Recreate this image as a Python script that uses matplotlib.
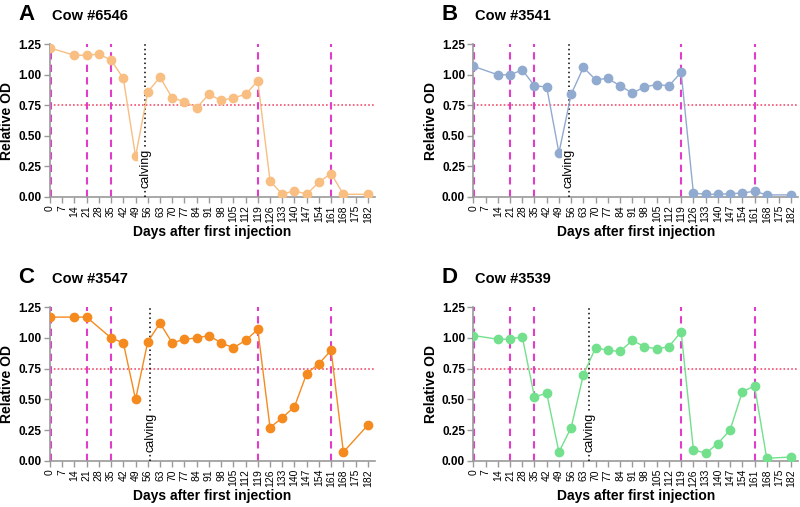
import numpy as np
import matplotlib.pyplot as plt

plt.rcParams['font.family'] = ['Liberation Sans', 'DejaVu Sans']

# days sampled
days = [0, 14, 21, 28, 35, 42, 49, 56, 63, 70, 77, 84, 91, 98, 105, 112, 119,
        126, 133, 140, 147, 154, 161, 168, 182]
days_c = [0, 14, 21, 35, 42, 49, 56, 63, 70, 77, 84, 91, 98, 105, 112, 119,
          126, 133, 140, 147, 154, 161, 168, 182]

od_6546 = [1.22, 1.16, 1.16, 1.17, 1.12, 0.97, 0.33, 0.86, 0.98, 0.81, 0.78, 0.73, 0.84,
           0.79, 0.81, 0.84, 0.95, 0.13, 0.02, 0.05, 0.02, 0.12, 0.19, 0.02, 0.02]
od_3541 = [1.07, 1.00, 1.00, 1.04, 0.91, 0.90, 0.36, 0.84, 1.06, 0.96, 0.97, 0.91, 0.85,
           0.90, 0.92, 0.91, 1.02, 0.03, 0.02, 0.02, 0.025, 0.03, 0.045, 0.015, 0.015]
od_3547 = [1.17, 1.17, 1.17, 1.00, 0.96, 0.50, 0.97, 1.12, 0.96, 0.99, 1.00, 1.02,
           0.96, 0.92, 0.98, 1.07, 0.27, 0.35, 0.44, 0.71, 0.79, 0.90, 0.07, 0.29]
od_3539 = [1.02, 0.99, 0.99, 1.01, 0.52, 0.55, 0.07, 0.27, 0.70, 0.92, 0.90, 0.89, 0.98,
           0.93, 0.91, 0.93, 1.05, 0.09, 0.06, 0.14, 0.25, 0.56, 0.61, 0.02, 0.03]

injections = [0.5, 21, 35, 119, 161]
calving = {"A": 54.5, "B": 54.5, "C": 57.5, "D": 66.5}
threshold = 0.75

panels = [
    ("A", "Cow #6546", days, od_6546, "#F8BE82", [0.0625, 0.612, 0.406, 0.3006]),
    ("B", "Cow #3541", days, od_3541, "#91AACF", [0.5917, 0.612, 0.406, 0.3006]),
    ("C", "Cow #3547", days_c, od_3547, "#F58A1F", [0.0625, 0.0913, 0.406, 0.3026]),
    ("D", "Cow #3539", days, od_3539, "#72E08C", [0.5917, 0.0913, 0.406, 0.3026]),
]

fig = plt.figure(figsize=(8, 5.07), dpi=100)

for letter, title, x, y, col, pos in panels:
    ax = fig.add_axes(pos)
    ax.plot(x, y, '-o', color=col, lw=1, ms=6, zorder=4)
    for d in injections:
        ax.axvline(d, color="#E23CCB", ls=(0, (3.5, 2.5)), lw=1.5, zorder=2)
    ax.axhline(threshold, color="#F2506E", ls=(0, (1, 1.3)), lw=1.2, zorder=1)
    cx = calving[letter]
    ax.plot([cx, cx], [0, 1.25], color="black", ls=(0, (1, 2)), lw=1.1, zorder=3)
    ax.text(cx, 0.07, "calving", rotation=90, ha='center', va='bottom', fontsize=9,
            bbox=dict(facecolor='white', edgecolor='none', pad=0.5), zorder=5)

    ax.set_xlim(0, 186)
    ax.set_ylim(0, 1.25)
    ax.set_xticks(range(0, 183, 7))
    ax.set_xticklabels([str(t) for t in range(0, 183, 7)], rotation=90, fontsize=7.5)
    ax.set_yticks([0, 0.25, 0.5, 0.75, 1.0, 1.25])
    ax.set_yticklabels(["0.00", "0.25", "0.50", "0.75", "1.00", "1.25"],
                       fontsize=8.5, fontweight='bold')
    for s in ["top", "right"]:
        ax.spines[s].set_visible(False)
    for s in ["left", "bottom"]:
        ax.spines[s].set_color("#9A9A9A")
        ax.spines[s].set_linewidth(1.2)
    ax.tick_params(colors="#9A9A9A", labelcolor="black", length=4, width=1, pad=2)
    ax.set_xlabel("Days after first injection", fontsize=10, fontweight='bold', labelpad=2)
    ax.set_ylabel("Relative OD", fontsize=10, fontweight='bold', labelpad=3)

    fx = pos[0]
    fig.text(fx - 0.040, pos[1] + pos[3] + 0.048, letter, fontsize=16, fontweight='bold',
             va='baseline')
    fig.text(fx + 0.002, pos[1] + pos[3] + 0.048, title, fontsize=10.5, fontweight='bold',
             va='baseline')

fig.savefig("out.png", dpi=100)
